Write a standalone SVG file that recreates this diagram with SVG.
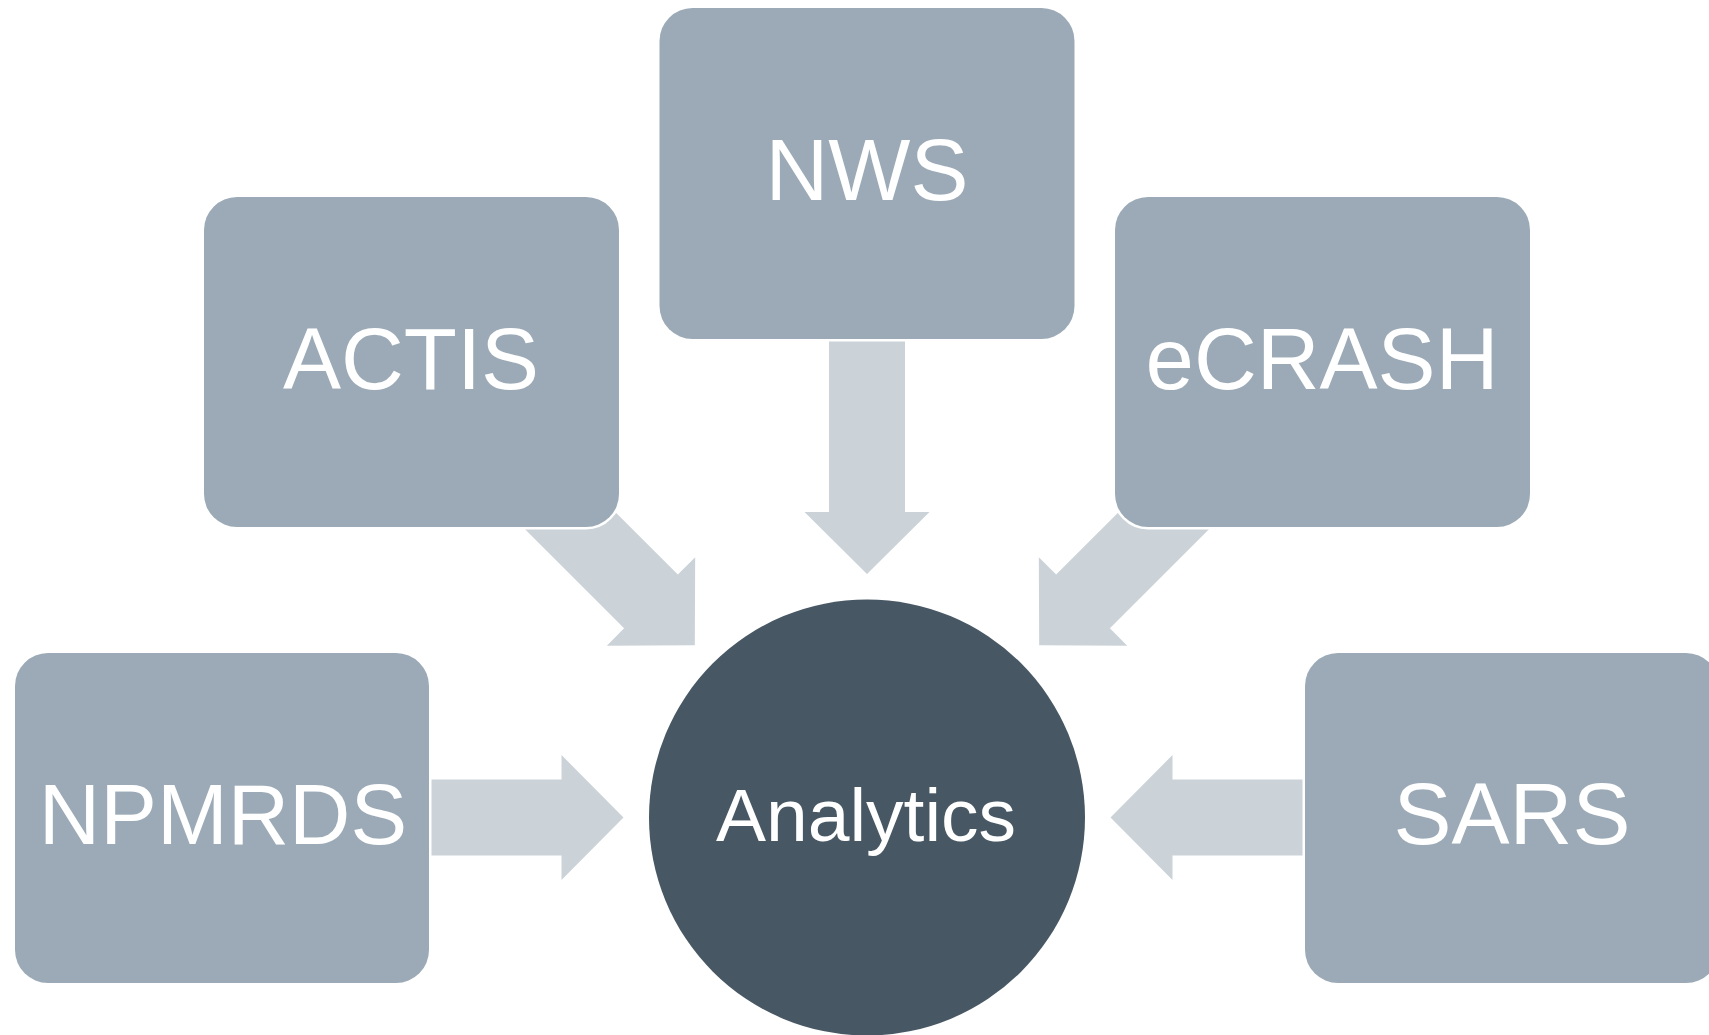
<svg xmlns="http://www.w3.org/2000/svg" width="1709" height="1035" viewBox="0 0 1709 1035">
  <style>
    .box { fill: #9BAAB6; stroke: #FFFFFF; stroke-width: 5; paint-order: stroke; }
    .arrow { fill: #CBD3D9; }
    .hub { fill: #475764; }
    .lbl { font-family: "Liberation Sans", Arial, sans-serif; fill: #FFFFFF; text-anchor: middle; font-size: 87px; }
  </style>
  <defs>
    <polygon id="arr" class="arrow" points="-520,-38 -305.5,-38 -305.5,-62.5 -243.5,0 -305.5,62.5 -305.5,38 -520,38"/>
  </defs>
  <rect width="1709" height="1035" fill="#FFFFFF"/>
  <g id="connectors">
    <use href="#arr" transform="translate(867,817.5) rotate(90)"/>
    <use href="#arr" transform="translate(867,817.5) rotate(45)"/>
    <use href="#arr" transform="translate(867,817.5) rotate(135)"/>
    <use href="#arr" transform="translate(867,817.5)"/>
    <use href="#arr" transform="translate(867,817.5) rotate(180)"/>
  </g>
  <g id="node-analytics">
    <circle class="hub" cx="867" cy="817.5" r="218"/>
    <text class="lbl" x="866" y="841" style="font-size:75px">Analytics</text>
  </g>
  <g id="node-nws">
    <rect class="box" x="659.5" y="8" width="415" height="331" rx="33"/>
    <text class="lbl" x="867" y="200">NWS</text>
  </g>
  <g id="node-actis">
    <rect class="box" x="204" y="197" width="415" height="330" rx="33"/>
    <text class="lbl" x="411" y="389">ACTIS</text>
  </g>
  <g id="node-ecrash">
    <rect class="box" x="1115" y="197" width="415" height="330" rx="33"/>
    <text class="lbl" x="1322" y="389">eCRASH</text>
  </g>
  <g id="node-npmrds">
    <rect class="box" x="15" y="653" width="414" height="330" rx="33"/>
    <text class="lbl" x="223" y="844" style="font-size:85px">NPMRDS</text>
  </g>
  <g id="node-sars">
    <rect class="box" x="1305" y="653" width="414" height="330" rx="33"/>
    <text class="lbl" x="1512" y="844">SARS</text>
  </g>
</svg>
